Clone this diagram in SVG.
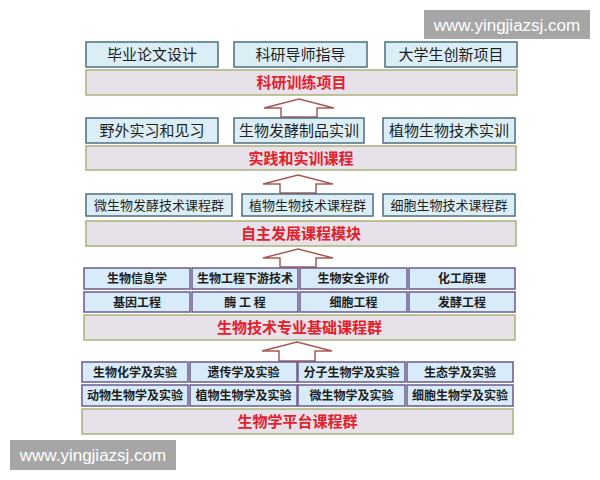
<svg xmlns="http://www.w3.org/2000/svg" width="600" height="480" viewBox="0 0 600 480">
<style>
.bg{fill:#ffffff}
.box{fill:#dbeef6;stroke:#4f6c7e;stroke-width:1.5}
.cbox{fill:#d8ebf8;stroke:#6b5b8e;stroke-width:1.5}
.band{fill:#e7e1ea;stroke:#aab27a;stroke-width:1.5}
.t{font-family:"Noto Sans CJK SC","Noto Sans",sans-serif;fill:#1e1e1e;text-anchor:middle}
.t15{font-size:15px}
.t13{font-size:13px}
.tb{font-size:12px;font-weight:bold}
.bt{font-family:"Noto Sans CJK SC","Noto Sans",sans-serif;font-size:15px;font-weight:bold;fill:#e3202b;text-anchor:middle}
.arrow{fill:#ffffff;stroke:#a65a55;stroke-width:1.5;stroke-linejoin:miter}
.wm{fill:#a6a6a6}
.wmt{font-family:"Liberation Sans",Arial,sans-serif;font-size:17px;fill:#ffffff;text-anchor:middle}
</style>
<rect class="bg" x="0" y="0" width="600" height="480"/>

<g id="connectors">
<path class="arrow" d="M299,99 L334,108 L317,108 L317,117 L281,117 L281,108 L264,108 Z"/>
<path class="arrow" d="M298,175 L333,184 L316,184 L316,193 L280,193 L280,184 L263,184 Z"/>
<path class="arrow" d="M298,249 L333,258 L316,258 L316,267 L280,267 L280,258 L263,258 Z"/>
<path class="arrow" d="M297,342 L332,351 L315,351 L315,361 L279,361 L279,351 L262,351 Z"/>
</g>

<g id="n-bysj"><rect class="box" x="86" y="42" width="132" height="25"/><text class="t t15" x="152" y="60">毕业论文设计</text></g>
<g id="n-kydszd"><rect class="box" x="234" y="42" width="133" height="25"/><text class="t t15" x="300.5" y="60">科研导师指导</text></g>
<g id="n-dxscx"><rect class="box" x="385" y="42" width="132" height="25"/><text class="t t15" x="451" y="60">大学生创新项目</text></g>
<g id="band-kyxl"><rect class="band" x="86" y="70" width="431" height="25"/><text class="bt" x="301.5" y="88">科研训练项目</text></g>

<g id="n-ywsx"><rect class="box" x="86" y="118" width="132" height="25"/><text class="t t15" x="152" y="136">野外实习和见习</text></g>
<g id="n-swfj"><rect class="box" x="234" y="118" width="130" height="25"/><text class="t t15" x="299" y="136">生物发酵制品实训</text></g>
<g id="n-zwsw"><rect class="box" x="383" y="118" width="132" height="25"/><text class="t t15" x="449" y="136">植物生物技术实训</text></g>
<g id="band-sjsx"><rect class="band" x="86" y="146" width="430" height="24"/><text class="bt" x="301" y="163.5">实践和实训课程</text></g>

<g id="n-wsw"><rect class="box" x="86" y="194" width="146" height="22"/><text class="t t13" x="159" y="210">微生物发酵技术课程群</text></g>
<g id="n-zwjs"><rect class="box" x="242" y="194" width="131" height="22"/><text class="t t13" x="307.5" y="210">植物生物技术课程群</text></g>
<g id="n-xbjs"><rect class="box" x="383" y="194" width="132" height="22"/><text class="t t13" x="449" y="210">细胞生物技术课程群</text></g>
<g id="band-zzfz"><rect class="band" x="86" y="221" width="430" height="25"/><text class="bt" x="301" y="239">自主发展课程模块</text></g>

<g id="n-swxx"><rect class="cbox" x="84" y="268" width="106" height="21"/><text class="t tb" x="137" y="283">生物信息学</text></g>
<g id="n-swgcxy"><rect class="cbox" x="192" y="268" width="106" height="21"/><text class="t tb" x="245" y="283">生物工程下游技术</text></g>
<g id="n-swaq"><rect class="cbox" x="300" y="268" width="107" height="21"/><text class="t tb" x="353.5" y="283">生物安全评价</text></g>
<g id="n-hgyl"><rect class="cbox" x="409" y="268" width="106" height="21"/><text class="t tb" x="462" y="283">化工原理</text></g>
<g id="n-jygc"><rect class="cbox" x="84" y="292" width="106" height="20"/><text class="t tb" x="137" y="306.5">基因工程</text></g>
<g id="n-mgc"><rect class="cbox" x="192" y="292" width="106" height="20"/><text class="t tb" x="245" y="306.5">酶 工 程</text></g>
<g id="n-xbgc"><rect class="cbox" x="300" y="292" width="107" height="20"/><text class="t tb" x="353.5" y="306.5">细胞工程</text></g>
<g id="n-fjgc"><rect class="cbox" x="409" y="292" width="106" height="20"/><text class="t tb" x="462" y="306.5">发酵工程</text></g>
<g id="band-swjs"><rect class="band" x="84" y="315" width="431" height="25"/><text class="bt" x="299.5" y="333">生物技术专业基础课程群</text></g>

<g id="n-swhx"><rect class="cbox" x="82" y="362" width="106" height="20"/><text class="t tb" x="135" y="376.5">生物化学及实验</text></g>
<g id="n-ycx"><rect class="cbox" x="190" y="362" width="107" height="20"/><text class="t tb" x="243.5" y="376.5">遗传学及实验</text></g>
<g id="n-fzsw"><rect class="cbox" x="298" y="362" width="107" height="20"/><text class="t tb" x="351.5" y="376.5">分子生物学及实验</text></g>
<g id="n-stx"><rect class="cbox" x="407" y="362" width="106" height="20"/><text class="t tb" x="460" y="376.5">生态学及实验</text></g>
<g id="n-dwsw"><rect class="cbox" x="82" y="385" width="106" height="21"/><text class="t tb" x="135" y="400">动物生物学及实验</text></g>
<g id="n-zwswx"><rect class="cbox" x="190" y="385" width="107" height="21"/><text class="t tb" x="243.5" y="400">植物生物学及实验</text></g>
<g id="n-wswx"><rect class="cbox" x="298" y="385" width="107" height="21"/><text class="t tb" x="351.5" y="400">微生物学及实验</text></g>
<g id="n-xbswx"><rect class="cbox" x="407" y="385" width="106" height="21"/><text class="t tb" x="460" y="400">细胞生物学及实验</text></g>
<g id="band-swxpt"><rect class="band" x="82" y="409" width="431" height="25"/><text class="bt" x="297.5" y="427">生物学平台课程群</text></g>

<g id="watermark-top"><rect class="wm" x="424" y="10" width="166" height="29"/><text class="wmt" x="507" y="30.5">www.yingjiazsj.com</text></g>
<g id="watermark-bottom"><rect class="wm" x="10" y="440" width="166" height="30"/><text class="wmt" x="93" y="461">www.yingjiazsj.com</text></g>
</svg>
